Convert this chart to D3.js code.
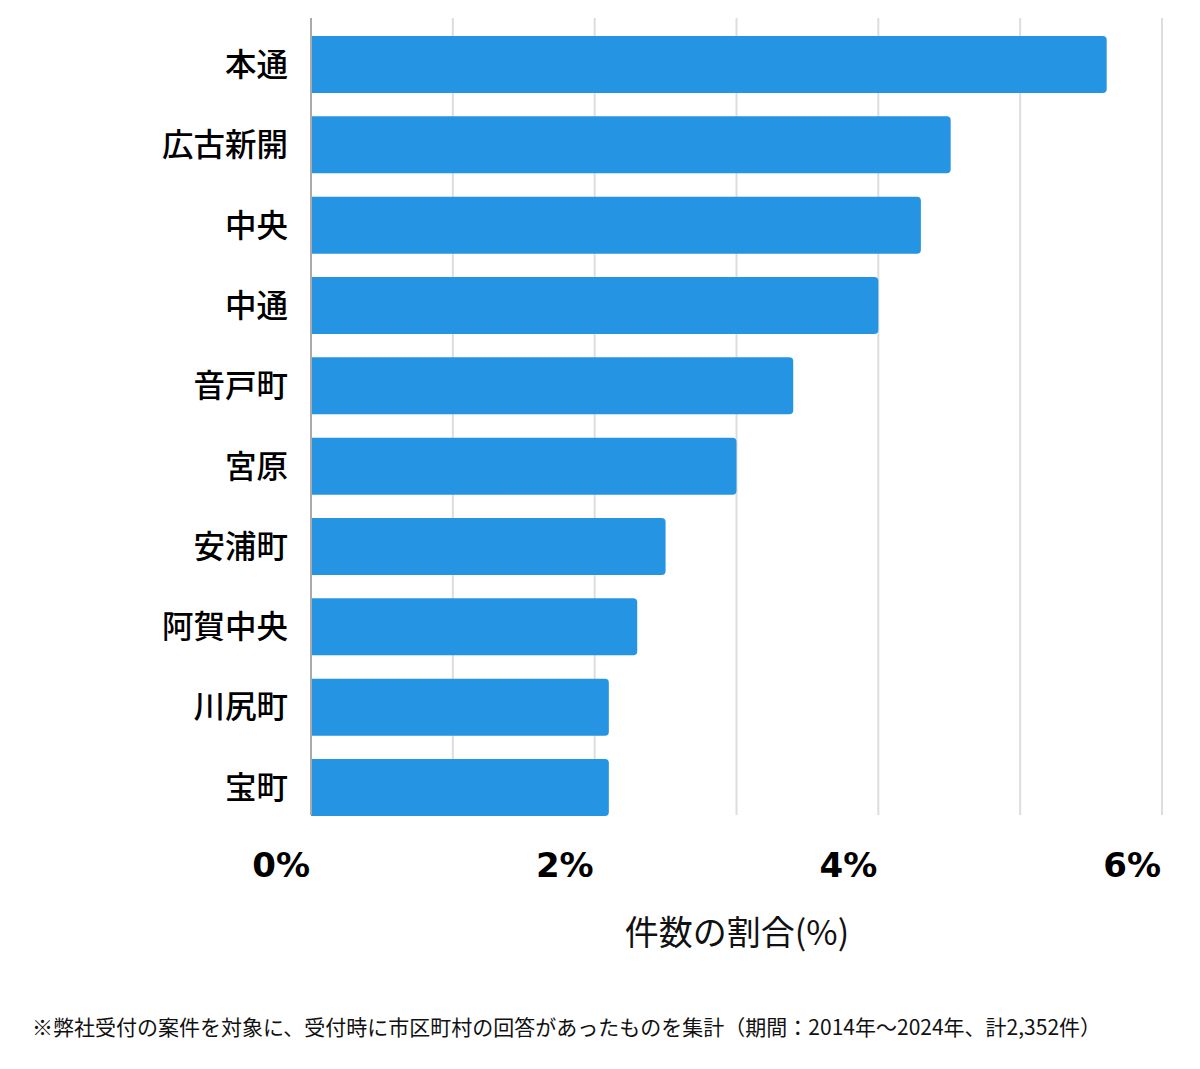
<!DOCTYPE html>
<html><head><meta charset="utf-8">
<script src="https://cdn.jsdelivr.net/npm/d3@7"></script>
<style>body{margin:0;background:#fff}svg{display:block}text{font-family:"Noto Sans CJK JP","Noto Sans",sans-serif}</style>
</head><body>
<script>
const categories = ["本通","広古新開","中央","中通","音戸町","宮原","安浦町","阿賀中央","川尻町","宝町"];
const values = [5.61, 4.51, 4.30, 4.00, 3.40, 3.00, 2.50, 2.30, 2.10, 2.10];
const tickValues = [0, 2, 4, 6];
const gridValues = [0, 1, 2, 3, 4, 5, 6];
const axisTitle = "件数の割合(%)";
const footnote = "※弊社受付の案件を対象に、受付時に市区町村の回答があったものを集計（期間：2014年～2024年、計2,352件）";

const W = 1200, H = 1069;
const svg = d3.select("body").append("svg").attr("width", W).attr("height", H);
const x = d3.scaleLinear().domain([0, 6]).range([311, 1162]);
const y = d3.scaleBand().domain(categories).range([24.35, 827.65]).paddingInner(0.29).paddingOuter(0.145);

svg.append("g").selectAll("line").data(gridValues.filter(d => d > 0)).join("line")
  .attr("x1", d => x(d)).attr("x2", d => x(d)).attr("y1", 18).attr("y2", 815)
  .attr("stroke", "#dddddd").attr("stroke-width", 2);

const r = 4;
svg.append("g").selectAll("path").data(categories).join("path")
  .attr("fill", "#2594e3")
  .attr("d", (c, i) => {
    const x0 = x(0), x1 = x(values[i]), y0 = y(c), h = y.bandwidth();
    return `M${x0},${y0}H${x1 - r}Q${x1},${y0} ${x1},${y0 + r}V${y0 + h - r}Q${x1},${y0 + h} ${x1 - r},${y0 + h}H${x0}Z`;
  });

svg.append("line").attr("x1", x(0)).attr("x2", x(0)).attr("y1", 18).attr("y2", 815)
  .attr("stroke", "#aaaaaa").attr("stroke-width", 2);

svg.append("g").selectAll("text").data(categories).join("text")
  .attr("x", 288).attr("y", d => y(d) + y.bandwidth() / 2)
  .attr("dy", "0.36em").attr("text-anchor", "end")
  .attr("font-size", 31.5).attr("font-weight", 500).attr("fill", "#000")
  .text(d => d);

svg.append("g").selectAll("text").data(tickValues).join("text")
  .attr("x", d => x(d) - 1).attr("y", 877)
  .attr("text-anchor", "end").attr("font-size", 34).attr("font-weight", 700)
  .attr("fill", "#000").style("font-family", '"DejaVu Sans",sans-serif')
  .text(d => d + "%");

svg.append("text").attr("x", 737).attr("y", 945).attr("text-anchor", "middle")
  .attr("font-size", 34).attr("fill", "#111").text(axisTitle);

svg.append("text").attr("x", 32).attr("y", 1035).attr("font-size", 21).attr("fill", "#111").text(footnote);
</script>
</body></html>
